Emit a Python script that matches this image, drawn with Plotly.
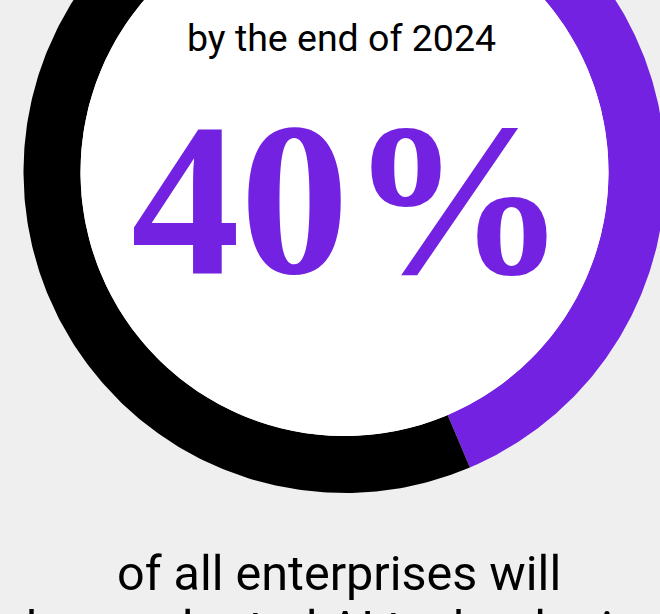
import numpy as np
import plotly.graph_objects as go

# ---- data ----
labels = ["Adopted AI by end of 2024", "Other enterprises"]
shares = [40, 60]
colors = ["#7222e0", "#000000"]
headline = "40%"
top_text = "by the end of 2024"
bottom_lines = ["of all enterprises will", "have adopted AI technologies"]

# ---- layout params (pixel units) ----
W, H = 660, 614
CX, CY = 344.5, 172.0
R_OUT, R_IN = 321.0, 264.0
START_DEG = 13.0   # clockwise from 12 o'clock
BG = "#efefef"

fig = go.Figure()

total = float(sum(shares))
cum = START_DEG
for lab, val, col in zip(labels, shares, colors):
    a0 = cum
    a1 = cum + 360.0 * val / total
    cum = a1
    t = np.radians(np.linspace(a0, a1, 300))
    xo = CX + R_OUT * np.sin(t)
    yo = CY - R_OUT * np.cos(t)
    xi = CX + R_IN * np.sin(t[::-1])
    yi = CY - R_IN * np.cos(t[::-1])
    xs = np.concatenate([xo, xi, xo[:1]])
    ys = np.concatenate([yo, yi, yo[:1]])
    fig.add_trace(go.Scatter(x=xs, y=ys, mode="lines", fill="toself",
                             fillcolor=col, line=dict(width=0, color=col),
                             name=lab, hoverinfo="name", showlegend=False))

fig.add_shape(type="circle", xref="x", yref="y",
              x0=CX - R_IN, x1=CX + R_IN, y0=CY - R_IN, y1=CY + R_IN,
              fillcolor="white", line=dict(width=0), layer="above")

fig.add_annotation(x=341, y=38, xref="x", yref="y", text=top_text,
                   showarrow=False, font=dict(family="Roboto", size=37.5, color="#000"))
fig.add_annotation(x=349, y=199, xref="x", yref="y", text=headline,
                   showarrow=False,
                   font=dict(family="Liberation Serif", size=218, color=colors[0], weight="bold"))
fig.add_annotation(x=339, y=573, xref="x", yref="y", text=bottom_lines[0],
                   showarrow=False, font=dict(family="Roboto", size=48.5, color="#000"))
fig.add_annotation(x=345, xref="x", y=(H - 628.0) / H, yref="paper", yanchor="middle",
                   xanchor="center", text=bottom_lines[1],
                   showarrow=False, font=dict(family="Roboto", size=48.5, color="#000"))

fig.update_xaxes(range=[0, W], visible=False, fixedrange=True)
fig.update_yaxes(range=[H, 0], visible=False, fixedrange=True)
fig.update_layout(width=W, height=H, margin=dict(l=0, r=0, t=0, b=0),
                  paper_bgcolor=BG, plot_bgcolor=BG, showlegend=False)

fig.write_html("out.html", config={"displayModeBar": False},
               post_script="document.body.style.margin='0';document.body.style.background='%s';" % BG)
